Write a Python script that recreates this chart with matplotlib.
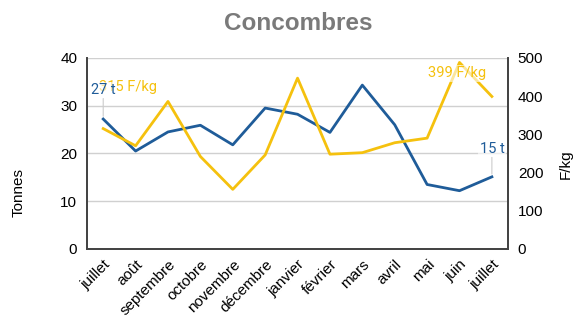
import matplotlib
matplotlib.use("Agg")
import matplotlib.pyplot as plt

months = ["juillet", "août", "septembre", "octobre", "novembre", "décembre",
          "janvier", "février", "mars", "avril", "mai", "juin", "juillet"]
tonnes = [27.2, 20.5, 24.5, 25.9, 21.8, 29.5, 28.2, 24.4, 34.3, 26.0, 13.5, 12.2, 15.1]
prix = [315, 270, 386, 242, 156, 246, 447, 248, 252, 278, 290, 488, 399]

BLUE = "#1f5c99"
YELLOW = "#f5c10e"
plt.rcParams['font.family'] = ['Liberation Sans', 'DejaVu Sans']
LABEL_FONT = ['Roboto', 'DejaVu Sans']

fig = plt.figure(figsize=(5.84, 3.18), dpi=100)
ax = fig.add_axes([0.149, 0.217, 0.721, 0.601])
ax2 = ax.twinx()

x = list(range(len(months)))
ax.plot(x, tonnes, color=BLUE, lw=2, zorder=3)
ax2.plot(x, prix, color=YELLOW, lw=2, zorder=3)

ax.set_xlim(-0.5, len(months) - 0.5)
ax.set_ylim(0, 40)
ax2.set_ylim(0, 500)
ax.set_yticks([0, 10, 20, 30, 40])
ax2.set_yticks([0, 100, 200, 300, 400, 500])
ax.set_xticks(x)
ax.set_xticklabels(months, rotation=45, ha="right", rotation_mode="anchor", fontsize=11)
ax.tick_params(axis="y", length=0, labelsize=11, pad=7)
ax.tick_params(axis="x", length=0, labelsize=11, pad=6)
ax2.tick_params(axis="both", length=0, labelsize=11, pad=7)
ax.grid(axis="y", color="#d0d0d0", lw=1)
ax.set_axisbelow(True)

for a in (ax, ax2):
    a.spines["top"].set_visible(False)
    for s in ("left", "right", "bottom"):
        a.spines[s].set_color("#444444")
        a.spines[s].set_linewidth(1.3)

fig.text(0.51, 0.927, "Concombres", ha="center", va="center", fontsize=17.5,
         color="#7a7a7a", fontweight="bold")
fig.text(0.032, 0.395, "Tonnes", rotation=90, ha="center", va="center", fontsize=11)
fig.text(0.968, 0.485, "F/kg", rotation=90, ha="center", va="center", fontsize=11)

bbox = dict(boxstyle="square,pad=0.1", fc="white", ec="none", alpha=0.6)
arrow = dict(arrowstyle="-", color="#cccccc", lw=0.8, shrinkA=0, shrinkB=2)
ax2.annotate(f"{prix[0]} F/kg", xy=(x[0], prix[0]), xytext=(25, 42),
             textcoords="offset pixels", ha="center", va="center", color=YELLOW,
             fontsize=10.5, family=LABEL_FONT, bbox=bbox, zorder=5)
ax2.annotate(f"{prix[-1]} F/kg", xy=(x[-1], prix[-1]), xytext=(-35, 23),
             textcoords="offset pixels", ha="center", va="center", color=YELLOW,
             fontsize=10.5, family=LABEL_FONT, bbox=bbox, zorder=5)
ax2.annotate(f"{round(tonnes[0])} t", xy=(x[0], tonnes[0]), xytext=(0, 29),
             textcoords="offset pixels", ha="center", va="center", color=BLUE,
             fontsize=10.5, family=LABEL_FONT, bbox=bbox, arrowprops=arrow, zorder=6,
             xycoords=ax.transData)
ax2.annotate(f"{round(tonnes[-1])} t", xy=(x[-1], tonnes[-1]), xytext=(0, 28),
             textcoords="offset pixels", ha="center", va="center", color=BLUE,
             fontsize=10.5, family=LABEL_FONT, bbox=bbox, arrowprops=arrow, zorder=6,
             xycoords=ax.transData)

fig.savefig("out.png", dpi=100)
